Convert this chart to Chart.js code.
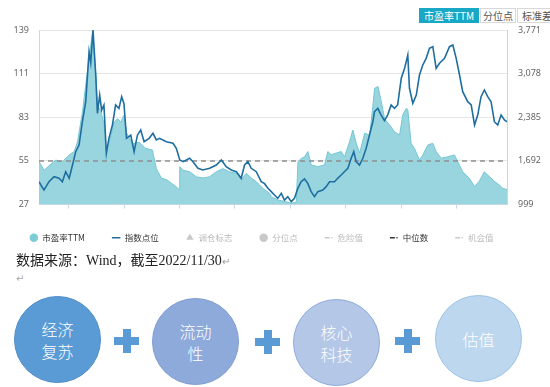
<!DOCTYPE html>
<html>
<head>
<meta charset="utf-8">
<script src="https://cdn.jsdelivr.net/npm/chart.js@4.4.0/dist/chart.umd.min.js"></script>
<style>
  body { margin: 0; background: #fff; }
  #page { position: relative; width: 550px; height: 387px; overflow: hidden; background: #fff; }
  #chartBox { position: absolute; left: 0; top: 0; width: 550px; height: 252px; }
  .tab { position: absolute; top: 8px; height: 15px; line-height: 15px; font-size: 10px;
         font-family: "Noto Sans CJK SC", "Noto Sans", sans-serif; text-align: center; box-sizing: border-box; }
  .tab.on { background: #19a7c6; color: #fff; }
  .tab.off { border: 1px solid #d8d8d8; color: #555; background: #fff; line-height: 13px; }
  .src { position: absolute; left: 16px; top: 249px; font-size: 14px; color: #222; white-space: nowrap;
         font-family: "Liberation Serif", "Noto Sans CJK SC", serif; }
  .mark { color: #999; font-size: 10px; }
  .mark2 { position: absolute; left: 16px; top: 273px; color: #aaa; font-size: 10px; font-family: "DejaVu Sans", sans-serif; }
  .circle { position: absolute; width: 87px; height: 87px; border-radius: 50%; box-sizing: border-box;
            display: flex; align-items: center; justify-content: center; text-align: center;
            color: #fff; font-size: 16px; line-height: 22px; font-family: "Noto Sans CJK SC", sans-serif; font-weight: 300; }
  .plus { position: absolute; width: 25px; height: 24px; }
  .plus:before, .plus:after { content: ""; position: absolute; background: #5b9bd5; }
  .plus:before { left: 0; top: 8px; width: 25px; height: 8px; }
  .plus:after { left: 8.5px; top: 0; width: 8px; height: 24px; }
</style>
</head>
<body>
<div id="page">
  <div id="chartBox"><canvas id="peChart" width="550" height="252"></canvas></div>
  <div class="tab on" style="left:419px;width:60px;">市盈率TTM</div>
  <div class="tab off" style="left:480px;width:36px;">分位点</div>
  <div class="tab off" style="left:517px;width:40px;">标准差</div>

  <div class="src">数据来源：Wind，截至2022/11/30<span class="mark">↵</span></div>
  <div class="mark2">↵</div>

  <div class="circle" style="left:14px;top:296px;background:#5b9bd5;border:1px solid #4f8ec8;">经济<br>复苏</div>
  <div class="plus" style="left:114px;top:329px;"></div>
  <div class="circle" style="left:152px;top:298px;background:#8eaadb;border:1px solid #7f9dd2;">流动<br>性</div>
  <div class="plus" style="left:255px;top:330px;"></div>
  <div class="circle" style="left:293px;top:299px;background:#b4c7e7;border:1px solid #8faadc;">核心<br>科技</div>
  <div class="plus" style="left:395px;top:329px;"></div>
  <div class="circle" style="left:435px;top:295px;background:#bdd7ee;border:1px solid #9dc3e6;">估值</div>
</div>

<script>
// 市盈率TTM (left axis)
const peDates = ['2014-06-18','2014-07-22','2014-08-24','2014-10-07','2014-11-20','2015-01-03','2015-02-05','2015-02-27',
  '2015-04-01','2015-04-22','2015-05-14','2015-06-06','2015-06-28','2015-07-09','2015-07-31','2015-08-22','2015-09-02',
  '2015-09-24','2015-10-27','2015-11-18','2015-12-09','2015-12-31','2016-01-16','2016-02-24','2016-04-08','2016-05-22',
  '2016-07-05','2016-07-31','2016-09-03','2016-10-06','2016-11-08','2016-12-21','2016-12-30','2017-01-02','2017-01-23',
  '2017-03-08','2017-04-21','2017-06-04','2017-07-17','2017-08-31','2017-10-13','2017-11-26','2018-01-10','2018-02-12',
  '2018-03-16','2018-04-18','2018-05-21','2018-07-03','2018-08-17','2018-08-28','2018-10-11','2018-11-24','2019-01-07',
  '2019-02-09','2019-02-20','2019-03-14','2019-04-05','2019-04-26','2019-05-19','2019-07-01','2019-08-14','2019-09-05',
  '2019-09-27','2019-10-30','2019-12-02','2019-12-24','2020-01-26','2020-02-17','2020-03-11','2020-04-02','2020-05-05',
  '2020-06-07','2020-06-29','2020-07-10','2020-08-01','2020-08-23','2020-09-14','2020-10-17','2020-11-19','2020-12-22',
  '2021-01-12','2021-02-04','2021-02-14','2021-03-08','2021-03-30','2021-05-02','2021-05-24','2021-06-26','2021-07-29',
  '2021-08-20','2021-09-22','2021-11-04','2021-12-19','2022-01-09','2022-02-11','2022-03-27','2022-04-29','2022-06-01',
  '2022-07-03','2022-08-05','2022-09-07','2022-10-10','2022-11-01','2022-11-30'];
const peValues = [54.5,49,52,55.5,54.5,58.8,61,67.3,
  86.6,103.7,120.8,138,110,91,86.6,78,61,
  67,80,82,80,84.5,73,66,67,63,
  62,50,43.8,43,40.6,37.4,36.5,51.3,49,
  48,44.8,44,44.8,48,50,48,47,42.7,
  47,44,41.7,37.4,34.2,32,29.9,29,27.8,
  28.5,54.5,56.6,57.6,61,52.4,51.3,52.4,61,
  59,60,61,57.6,67.3,74.8,66,60,72.7,
  71.6,90.9,101.6,102.7,93,82,78,73.7,71.6,
  84.5,88.7,88,66.3,63,55.6,58.7,65.2,66.3,
  61,56.7,57.6,58.8,54.5,48,43.8,38.5,42,
  48,45,42,39.5,37.5,36.5];

// 指数点位 (right axis)
const idxDates = ['2014-06-18','2014-06-30','2014-07-21','2014-08-23','2014-09-25','2014-10-28','2014-11-19','2014-12-11',
  '2015-01-03','2015-01-25','2015-02-15','2015-03-09','2015-03-31','2015-04-22','2015-05-14','2015-05-25','2015-06-09',
  '2015-06-27','2015-07-08','2015-07-23','2015-08-05','2015-08-20','2015-09-05','2015-09-22','2015-10-15','2015-11-05',
  '2015-11-27','2015-12-15','2015-12-30','2016-01-16','2016-02-13','2016-03-06','2016-03-28','2016-04-19','2016-05-11',
  '2016-06-13','2016-07-09','2016-07-31','2016-08-22','2016-10-05','2016-11-18','2016-12-10','2017-01-02','2017-01-24',
  '2017-03-08','2017-03-30','2017-05-02','2017-06-03','2017-07-18','2017-08-31','2017-10-03','2017-11-04','2017-12-07',
  '2018-01-10','2018-02-11','2018-03-05','2018-03-27','2018-04-18','2018-05-21','2018-06-23','2018-07-15','2018-08-06',
  '2018-08-28','2018-09-18','2018-10-10','2018-11-02','2018-11-23','2018-12-15','2019-01-07','2019-01-28','2019-02-19',
  '2019-03-13','2019-04-04','2019-04-26','2019-05-18','2019-06-09','2019-07-01','2019-08-03','2019-08-25','2019-09-16',
  '2019-10-19','2019-11-09','2019-12-02','2019-12-23','2020-01-15','2020-02-06','2020-02-23','2020-03-10','2020-04-01',
  '2020-04-23','2020-05-15','2020-06-06','2020-06-28','2020-07-09','2020-07-31','2020-08-22','2020-09-13','2020-10-04',
  '2020-10-27','2020-11-18','2020-12-09','2021-01-02','2021-01-24','2021-02-14','2021-02-25','2021-03-19','2021-04-11',
  '2021-05-02','2021-05-24','2021-06-15','2021-07-07','2021-07-29','2021-08-20','2021-09-11','2021-10-14','2021-11-16',
  '2021-12-08','2021-12-30','2022-01-21','2022-02-11','2022-03-16','2022-04-08','2022-04-30','2022-05-21','2022-06-12',
  '2022-07-04','2022-07-26','2022-08-17','2022-09-08','2022-09-30','2022-10-22','2022-11-13','2022-11-30'];
const idxValues = [1361,1309,1229,1361,1441,1415,1361,1520,
  1415,1626,1838,1944,2314,2632,3426,3250,3771,
  3056,2448,2738,2500,2580,1812,2050,2262,2580,
  2527,2712,2600,2050,2100,1838,2100,2182,1997,
  2050,2130,2024,2050,1997,1971,1892,1706,1679,
  1733,1679,1574,1547,1574,1626,1706,1600,1547,
  1520,1415,1626,1679,1574,1520,1361,1330,1256,
  1203,1150,1097,1177,1070,1124,1044,1097,1256,
  1361,1404,1335,1203,1124,1203,1229,1282,1361,
  1361,1415,1467,1520,1574,1733,1838,1679,1626,
  1733,1892,2103,2314,2473,2527,2420,2330,2420,
  2580,2527,2580,3004,3163,3374,2845,2607,2738,
  3056,3215,3321,3480,3506,3163,3242,3321,3506,
  3533,3321,3056,2791,2632,2580,2262,2420,2712,
  2818,2712,2632,2314,2262,2420,2341,2314];

const medianPE = 55;
const xTickYears = [2015, 2016, 2017, 2018, 2019, 2020, 2021, 2022];
const xTickLabels = ['15-01-01','16-01-01','17-01-01','18-01-01','19-01-01','20-01-01','21-01-01','22-01-01'];
const peTicks = { min: 27, max: 139, step: 28 };
const idxTicks = { min: 999, max: 3771, step: 693 };
const seriesNames = ['市盈率TTM', '指数点位', '调仓标志', '分位点', '危险值', '中位数', '机会值'];

function toYear(s) {
  const [y, m, d] = s.split('-').map(Number);
  const t0 = Date.UTC(y, 0, 1), t1 = Date.UTC(y + 1, 0, 1);
  return y + (Date.UTC(y, m - 1, d) - t0) / (t1 - t0);
}

const xMin = toYear(peDates[0]);
const xMax = toYear(peDates[peDates.length - 1]);

// legend look for each series
const legendLook = [
  { pointStyle: 'circle', fill: '#7ccbd6', stroke: '#7ccbd6', dash: [], font: '#333' },
  { pointStyle: 'line', fill: '#1f6ea0', stroke: '#1f6ea0', dash: [], font: '#333' },
  { pointStyle: 'triangle', fill: '#c9c9c9', stroke: '#c9c9c9', dash: [], font: '#bbb' },
  { pointStyle: 'circle', fill: '#c9c9c9', stroke: '#c9c9c9', dash: [], font: '#bbb' },
  { pointStyle: 'line', fill: '#c9c9c9', stroke: '#c9c9c9', dash: [5, 1.5, 1.2, 1.5], font: '#bbb' },
  { pointStyle: 'line', fill: '#333', stroke: '#333', dash: [5, 1.5, 1.2, 1.5], font: '#333' },
  { pointStyle: 'line', fill: '#c9c9c9', stroke: '#c9c9c9', dash: [5, 1.5, 1.2, 1.5], font: '#bbb' }
];

const ctx = document.getElementById('peChart').getContext('2d');
new Chart(ctx, {
  type: 'line',
  data: {
    datasets: [
      {
        label: seriesNames[0],
        data: peDates.map((d, i) => ({ x: toYear(d), y: peValues[i] })),
        yAxisID: 'y',
        borderColor: '#74c7d3',
        backgroundColor: '#98d5de',
        borderWidth: 1,
        fill: 'start',
        pointRadius: 0,
        tension: 0,
        order: 3
      },
      {
        label: seriesNames[1],
        data: idxDates.map((d, i) => ({ x: toYear(d), y: idxValues[i] })),
        yAxisID: 'y1',
        borderColor: '#1f6ea0',
        borderWidth: 1.6,
        fill: false,
        pointRadius: 0,
        tension: 0,
        order: 1
      },
      { label: seriesNames[2], data: [], yAxisID: 'y' },
      { label: seriesNames[3], data: [], yAxisID: 'y' },
      { label: seriesNames[4], data: [], yAxisID: 'y' },
      {
        label: seriesNames[5],
        data: [{ x: xMin, y: medianPE }, { x: xMax, y: medianPE }],
        yAxisID: 'y',
        borderColor: '#8f8f8f',
        borderWidth: 1.5,
        borderDash: [5, 4],
        pointRadius: 0,
        fill: false,
        order: 2
      },
      { label: seriesNames[6], data: [], yAxisID: 'y' }
    ]
  },
  options: {
    responsive: false,
    animation: false,
    // negative left padding only moves the centred legend a little to the left
    layout: { padding: { top: 30, right: 0, left: -27, bottom: 0 } },
    scales: {
      x: {
        type: 'linear',
        min: xMin,
        max: xMax,
        afterBuildTicks: (scale) => { scale.ticks = xTickYears.map(v => ({ value: v })); },
        afterFit: (scale) => { scale.height = 2; },
        ticks: {
          callback: (v, i) => xTickLabels[i],
          color: '#666',
          font: { family: 'Noto Sans', size: 9 },
          padding: 2,
          maxRotation: 0,
          autoSkip: false
        },
        grid: { drawOnChartArea: false, tickLength: 4, color: '#c8d6e5' },
        border: { color: '#c8d6e5' }
      },
      y: {
        position: 'left',
        min: peTicks.min,
        max: peTicks.max,
        afterFit: (scale) => { scale.width = 66; },
        ticks: {
          stepSize: peTicks.step,
          color: '#666',
          font: { family: 'Noto Sans', size: 9 },
          padding: 10
        },
        grid: { color: '#e6e6e6', drawTicks: false },
        border: { color: '#c8d6e5' }
      },
      y1: {
        position: 'right',
        min: idxTicks.min,
        max: idxTicks.max,
        afterFit: (scale) => { scale.width = 43; },
        ticks: {
          stepSize: idxTicks.step,
          color: '#666',
          font: { family: 'Noto Sans', size: 9 },
          padding: 11,
          callback: (v) => v.toLocaleString('en-US')
        },
        grid: { drawOnChartArea: false, drawTicks: false },
        border: { color: '#c8d6e5' }
      }
    },
    plugins: {
      tooltip: { enabled: false },
      legend: {
        display: true,
        position: 'bottom',
        onClick: null,
        labels: {
          usePointStyle: true,
          boxHeight: 6,
          boxWidth: 9,
          padding: 27,
          font: { family: 'Noto Sans CJK SC', size: 8.5 },
          generateLabels: (chart) => chart.data.datasets.map((ds, i) => ({
            text: ds.label,
            datasetIndex: i,
            pointStyle: legendLook[i].pointStyle,
            fillStyle: legendLook[i].fill,
            strokeStyle: legendLook[i].stroke,
            lineWidth: legendLook[i].pointStyle === 'line' ? 1.5 : 0,
            lineDash: legendLook[i].dash,
            fontColor: legendLook[i].font,
            hidden: false
          }))
        }
      }
    }
  }
});
</script>
</body>
</html>
